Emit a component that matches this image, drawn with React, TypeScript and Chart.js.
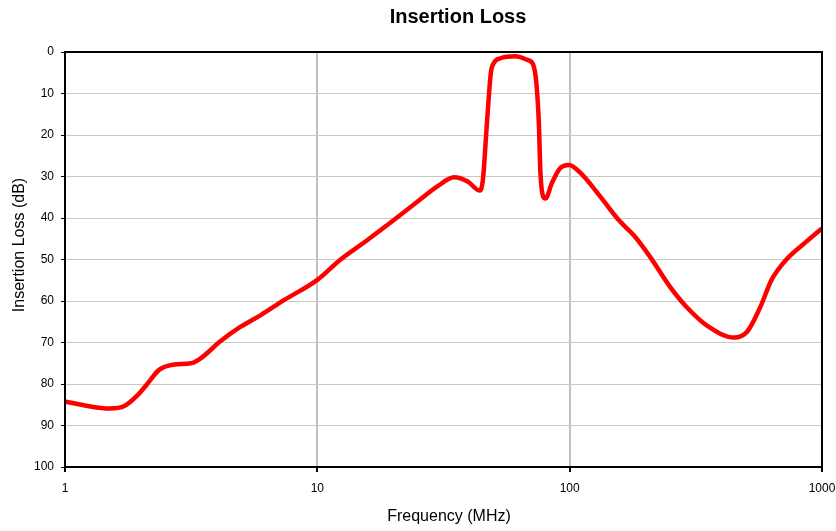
import React, { useEffect, useRef } from "react";
import { Chart, registerables } from "chart.js";

Chart.register(...registerables);

const frequencyMHz = [
  1, 1.23, 1.5, 1.72, 1.94, 2.13, 2.36, 2.71, 3.15, 3.45, 4.15, 4.97, 5.97, 7.37,
  10, 12.3, 15.8, 20.1, 24.9, 29.9, 34.8, 39.4, 44.1, 45.3, 47.0, 48.7, 50.0, 53.2,
  61, 68, 71.5, 73.8, 75.5, 76.6, 78.6, 80.2, 85, 91.6, 99.4, 110.6, 132.5, 156.5,
  181.6, 208, 250, 290, 348, 448, 505, 570, 631, 720, 867, 1000,
];
const insertionLossDb = [
  84.2, 85.3, 85.9, 85.3, 82.7, 79.8, 76.6, 75.3, 75.0, 73.8, 69.6, 66.2, 63.4, 59.8,
  54.9, 50.1, 45.3, 40.5, 36.1, 32.4, 30.2, 31.2, 33.4, 30.8, 17.2, 5.1, 2.7, 1.5,
  1.0, 1.9, 2.9, 7.5, 17.2, 29.2, 34.9, 35.3, 31.6, 28.0, 27.2, 29.2, 34.9, 40.5,
  44.5, 49.3, 56.6, 61.4, 65.8, 68.8, 67.4, 61.4, 54.9, 50.1, 45.7, 42.5,
];
const xTickValues = [1, 10, 100, 1000];
const titleText = "Insertion Loss";
const xAxisTitle = "Frequency (MHz)";
const yAxisTitle = "Insertion Loss (dB)";

const FONT = "'Liberation Sans', Arial, sans-serif";

const decorPlugin = {
  id: "decor",
  afterDraw(chart: any) {
    const { ctx, chartArea } = chart;
    ctx.save();
    ctx.strokeStyle = "#000";
    ctx.lineWidth = 2;
    ctx.strokeRect(chartArea.left, chartArea.top, chartArea.right - chartArea.left, chartArea.bottom - chartArea.top);
    ctx.fillStyle = "#000";
    ctx.textAlign = "center";
    ctx.textBaseline = "middle";
    ctx.font = `bold 20px ${FONT}`;
    ctx.fillText(titleText, 458, 17);
    ctx.font = `16px ${FONT}`;
    ctx.fillText(xAxisTitle, 449, 517);
    ctx.translate(20, 245);
    ctx.rotate(-Math.PI / 2);
    ctx.fillText(yAxisTitle, 0, 0);
    ctx.restore();
  },
};

export default function App() {
  const ref = useRef<HTMLCanvasElement>(null);
  useEffect(() => {
    if (!ref.current) return;
    const chart = new Chart(ref.current, {
      type: "line",
      data: {
        datasets: [
          {
            data: frequencyMHz.map((f, i) => ({ x: f, y: insertionLossDb[i] })),
            borderColor: "#ff0000",
            backgroundColor: "#ff0000",
            borderWidth: 4.5,
            pointRadius: 0,
            cubicInterpolationMode: "monotone",
            fill: false,
          },
        ],
      },
      options: {
        animation: false,
        responsive: false,
        maintainAspectRatio: false,
        layout: { padding: { left: 0, top: 52, right: 14, bottom: 0 } },
        plugins: { legend: { display: false }, title: { display: false }, tooltip: { enabled: false } },
        scales: {
          x: {
            type: "logarithmic",
            min: 1,
            max: 1000,
            afterBuildTicks: (scale: any) => {
              scale.ticks = xTickValues.map((v) => ({ value: v }));
            },
            afterFit: (scale: any) => {
              scale.height = 64;
              scale.paddingLeft = 0;
              scale.paddingRight = 0;
            },
            ticks: {
              callback: (v: any) => String(v),
              color: "#000",
              font: { family: FONT, size: 12 },
              padding: 9,
              maxRotation: 0,
              autoSkip: false,
            },
            grid: { color: "#c0c0c0", lineWidth: 2, tickColor: "#000", tickLength: 5 },
            border: { display: false },
          },
          y: {
            type: "linear",
            reverse: true,
            min: 0,
            max: 100,
            afterFit: (scale: any) => {
              scale.width = 65;
              scale.paddingTop = 0;
              scale.paddingBottom = 0;
            },
            ticks: {
              stepSize: 10,
              color: "#000",
              font: { family: FONT, size: 12 },
              padding: 7,
            },
            grid: { color: "#c8c8c8", lineWidth: 1, tickColor: "#000", tickLength: 4 },
            border: { display: false },
          },
        },
      },
      plugins: [decorPlugin],
    } as any);
    return () => chart.destroy();
  }, []);
  return (
    <div style={{ position: "fixed", left: 0, top: 0, width: 836, height: 531, background: "#fff" }}>
      <canvas ref={ref} width={836} height={531} style={{ width: 836, height: 531 }} />
    </div>
  );
}
